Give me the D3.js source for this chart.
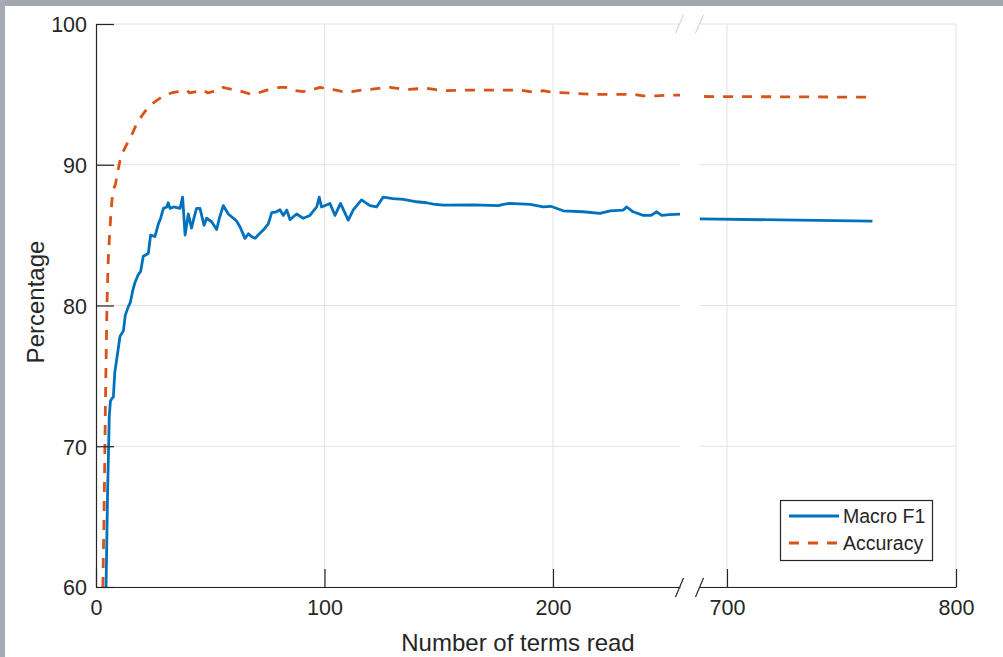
<!DOCTYPE html>
<html>
<head>
<meta charset="utf-8">
<script src="https://cdn.jsdelivr.net/npm/d3@7"></script>
<style>
  body { margin: 0; background: #fff; }
  svg { display: block; font-family: "Liberation Sans", Arial, sans-serif; }
  .tick text { fill: #262626; font-size: 21.5px; }
  .tick line, .domain { stroke: #262626; }
</style>
</head>
<body>
<div id="wrapper"></div>
<script>
// terms read (x) and percentages (y); the left panel covers 0-255, the right one 688-800
const f1Terms = [4.4, 4.8, 5.1, 5.4, 5.8, 6.3, 7, 7.6, 8.2, 9, 9.8, 10.5, 11.2, 12, 12.8, 14.1, 15, 16, 17, 18.5,
  19.5, 20.7, 22.9, 23.9, 25.8, 27.3, 28.3, 29.5, 31, 31.6, 32.4, 34, 36.8, 37.9, 39, 40.4, 41.8, 43, 44, 45.5,
  47.3, 48.4, 50.6, 52.8, 54, 55.7, 57.9, 60.1, 61.5, 63, 65.2, 66.7, 68, 69.6, 71.5, 73.2, 75.4, 76.9, 79, 80.5,
  82, 83.5, 84.9, 87.8, 90.7, 93.6, 96.6, 97.7, 98.7, 102.4, 104.6, 107, 110.4, 112.6, 116.2, 119.9, 122.8, 125.7, 130, 134.5,
  140.3, 144.7, 147.6, 152, 165, 176, 178.3, 181, 190, 195.8, 199, 204.5, 213.1, 220.6, 225, 230.8, 232.2, 235.1, 239.5, 243,
  245.4, 247.6, 251, 256,
  688, 763.5]
const f1Values = [60, 64, 67, 69, 72.1, 73.2, 73.4, 73.5, 75.2, 76.1, 77, 77.8, 78, 78.2, 79.3, 79.9, 80.2, 81, 81.6, 82.2,
  82.4, 83.5, 83.7, 85, 84.9, 85.8, 86.2, 86.9, 87, 87.3, 86.9, 87, 86.9, 87.7, 85, 86.5, 85.5, 86.3, 86.9, 86.9,
  85.7, 86.2, 85.95, 85.4, 86.2, 87.1, 86.5, 86.2, 86, 85.6, 84.77, 85.1, 84.9, 84.77, 85.1, 85.36, 85.8, 86.6, 86.66, 86.8,
  86.4, 86.78, 86.1, 86.5, 86.2, 86.4, 87, 87.7, 87, 87.25, 86.4, 87.25, 86.07, 86.8, 87.5, 87.1, 87, 87.7, 87.6, 87.54,
  87.37, 87.3, 87.2, 87.13, 87.15, 87.1, 87.18, 87.25, 87.18, 87, 87.05, 86.73, 86.66, 86.55, 86.73, 86.78, 87, 86.66, 86.4, 86.4,
  86.66, 86.4, 86.45, 86.5,
  86.15, 86.0]

const accTerms = [3, 3.5, 3.9, 4.3, 4.8, 5.3, 5.8, 6.4, 7, 7.5, 8.5, 9.5, 10.5, 11.5, 13, 15.6, 17.5, 19.3, 21.5, 23.6,
  26, 28.7, 31, 33, 36, 39.7, 41, 44, 46.9, 49, 51, 54.3, 55.7, 58, 61.5, 64, 68, 71, 74.7, 78,
  80.5, 83, 86, 90.7, 94, 98, 101, 105, 108, 112, 116, 120, 125, 128.7, 133, 137, 141, 144.7, 148, 152,
  160, 170, 181, 185.6, 190, 192.8, 195.7, 198, 201.5, 206, 210, 217.5, 225, 235, 239.4, 245, 251, 256,
  690, 762]
const accValues = [60, 65, 70, 75, 80, 83, 84.6, 86.2, 87.5, 88.2, 88.6, 89.5, 90.3, 90.8, 91.3, 92.1, 92.8, 93.3, 93.8, 94.2,
  94.5, 94.8, 95, 95.1, 95.2, 95.3, 95.1, 95.2, 95.3, 95.1, 95.2, 95.3, 95.5, 95.4, 95.3, 95.2, 95, 95.1, 95.3, 95.4,
  95.5, 95.5, 95.3, 95.2, 95.3, 95.5, 95.4, 95.3, 95.2, 95.2, 95.3, 95.36, 95.45, 95.5, 95.4, 95.36, 95.4, 95.43, 95.35, 95.26,
  95.3, 95.3, 95.3, 95.3, 95.2, 95.14, 95.26, 95.2, 95.14, 95.1, 95.07, 95, 95, 95, 94.9, 94.9, 94.95, 94.95,
  94.85, 94.8]

const yTicks = [60, 70, 80, 90, 100]
const leftTicks = [0, 100, 200]
const rightTicks = [700, 800]
const seriesNames = ['Macro F1', 'Accuracy']

const blue = '#0072BD'
const orange = '#D95319'
const gridColor = '#e2e2e2'

let dimensions = {
    width: 1003,
    height: 657,
    left: 96,
    top: 24,
    bottom: 587,
    leftEnd: 680,
    rightStart: 699.5,
    right: 956
}

const wrapper = d3.select('#wrapper')
    .append('svg')
        .attr('width', dimensions.width)
        .attr('height', dimensions.height)

// grey frame bits of the screenshot
wrapper.append('rect').attr('x', 0).attr('y', 0).attr('width', 1003).attr('height', 6).attr('fill', '#a2a6ad')
wrapper.append('rect').attr('x', 0).attr('y', 0).attr('width', 5).attr('height', 657).attr('fill', '#a6aab1')

// scales
const yScale = d3.scaleLinear()
    .domain([60, 100])
    .range([dimensions.bottom, dimensions.top])
const xLeft = d3.scaleLinear()
    .domain([0, 255.6])
    .range([dimensions.left, dimensions.leftEnd])
const xRight = d3.scaleLinear()
    .domain([688, 800])
    .range([dimensions.rightStart, dimensions.right])

// gridlines
const grid = wrapper.append('g').attr('stroke', gridColor).attr('stroke-width', 1)
const panels = [[xLeft, leftTicks], [xRight, rightTicks]]
panels.forEach(([sc, ticks]) => {
    grid.selectAll(null)
        .data(yTicks)
        .enter().append('line')
            .attr('x1', sc.range()[0]).attr('x2', sc.range()[1])
            .attr('y1', d => yScale(d)).attr('y2', d => yScale(d))
    grid.selectAll(null)
        .data(ticks.filter(d => d > 0))
        .enter().append('line')
            .attr('x1', d => sc(d)).attr('x2', d => sc(d))
            .attr('y1', dimensions.top).attr('y2', dimensions.bottom)
})

// data, clipped to each panel
const defs = wrapper.append('defs')
panels.forEach(([sc], i) => {
    defs.append('clipPath').attr('id', 'clip' + i)
        .append('rect')
            .attr('x', sc.range()[0]).attr('y', 0)
            .attr('width', sc.range()[1] - sc.range()[0]).attr('height', dimensions.bottom + 3)
})

const series = [
    { terms: f1Terms, values: f1Values, color: blue, dash: null },
    { terms: accTerms, values: accValues, color: orange, dash: '10 9' }
]

panels.forEach(([sc], i) => {
    const inPanel = i === 0 ? (t => t < 400) : (t => t > 400)
    const line = d3.line()
        .x(d => sc(d[0]))
        .y(d => yScale(d[1]))
    const g = wrapper.append('g').attr('clip-path', `url(#clip${i})`)
    series.slice().reverse().forEach(s => {
        const pts = s.terms.map((t, j) => [t, s.values[j]]).filter(d => inPanel(d[0]))
        g.append('path')
            .datum(pts)
            .attr('d', line)
            .attr('fill', 'none')
            .attr('stroke', s.color)
            .attr('stroke-width', 2.8)
            .attr('stroke-linejoin', 'round')
            .attr('stroke-dasharray', s.dash)
    })
})

// axes
const yAxis = wrapper.append('g')
    .attr('transform', `translate(${dimensions.left},0)`)
    .call(d3.axisLeft(yScale).tickValues(yTicks).tickSize(-18).tickSizeOuter(0).tickPadding(9))
yAxis.selectAll('text').attr('dy', '0.36em')

const xAxisLeft = wrapper.append('g')
    .attr('transform', `translate(0,${dimensions.bottom})`)
    .call(d3.axisBottom(xLeft).tickValues(leftTicks).tickSize(-18).tickSizeOuter(0).tickPadding(13))

const xAxisRight = wrapper.append('g')
    .attr('transform', `translate(0,${dimensions.bottom})`)
    .call(d3.axisBottom(xRight).tickValues(rightTicks).tickSize(-18).tickSizeOuter(0).tickPadding(13))

wrapper.selectAll('.domain, .tick line').attr('stroke-width', 1.2)

// axis break marks
const breakX = [679.5, 699.5]
breakX.forEach(bx => {
    wrapper.append('line')
        .attr('x1', bx - 4).attr('y1', dimensions.bottom + 10)
        .attr('x2', bx + 4).attr('y2', dimensions.bottom - 9)
        .attr('stroke', '#262626').attr('stroke-width', 1.2)
    wrapper.append('line')
        .attr('x1', bx - 4).attr('y1', dimensions.top + 9)
        .attr('x2', bx + 4).attr('y2', dimensions.top - 9)
        .attr('stroke', '#d6d6d6').attr('stroke-width', 1.2)
})

// axis labels
wrapper.append('text')
    .attr('x', 518)
    .attr('y', 651)
    .attr('text-anchor', 'middle')
    .attr('fill', '#262626')
    .style('font-size', '24px')
    .text('Number of terms read')

wrapper.append('text')
    .attr('transform', 'translate(44,302) rotate(-90)')
    .attr('text-anchor', 'middle')
    .attr('fill', '#262626')
    .style('font-size', '24px')
    .text('Percentage')

// legend
const legend = wrapper.append('g')
legend.append('rect')
    .attr('x', 780.5).attr('y', 500.5)
    .attr('width', 152).attr('height', 60)
    .attr('fill', '#fff')
    .attr('stroke', '#262626')
    .attr('stroke-width', 1.2)

series.forEach((s, i) => {
    const ly = 516 + i * 27
    legend.append('line')
        .attr('x1', 789).attr('x2', 839)
        .attr('y1', ly).attr('y2', ly)
        .attr('stroke', s.color)
        .attr('stroke-width', 2.8)
        .attr('stroke-dasharray', s.dash ? '10 9' : null)
    legend.append('text')
        .attr('x', 843)
        .attr('y', ly + 7)
        .attr('fill', '#262626')
        .style('font-size', '19.5px')
        .text(seriesNames[i])
})
</script>
</body>
</html>
